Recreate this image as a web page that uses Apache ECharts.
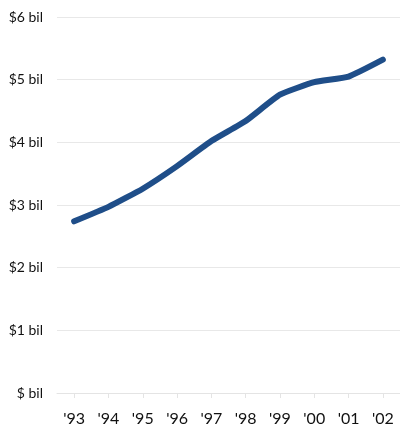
<!DOCTYPE html>
<html>
<head>
<meta charset="utf-8">
<script src="https://cdn.jsdelivr.net/npm/echarts@6/dist/echarts.min.js"></script>
<style>
html,body{margin:0;padding:0;background:#fff;}
#chart{width:400px;height:433px;}
</style>
</head>
<body>
<div id="chart"></div>
<script>
const categories = ["'93","'94","'95","'96","'97","'98","'99","'00","'01","'02"];
const values = [2.74, 2.97, 3.26, 3.62, 4.02, 4.34, 4.76, 4.96, 5.05, 5.32];
const yTickLabels = ['$ bil','$1 bil','$2 bil','$3 bil','$4 bil','$5 bil','$6 bil'];

const chart = echarts.init(document.getElementById('chart'));
chart.setOption({
  animation: false,
  grid: {left: 57, right: -7, top: 17, bottom: 40, containLabel: false},
  xAxis: {
    type: 'category',
    data: categories,
    boundaryGap: true,
    axisLine: {show: true, lineStyle: {color: '#e4e4e4', width: 1}},
    axisTick: {show: true, alignWithLabel: true, length: 5, lineStyle: {color: '#e4e4e4'}},
    axisLabel: {color: '#111', fontFamily: 'Lato', fontSize: 16, margin: 18}
  },
  yAxis: {
    type: 'value',
    min: 0, max: 6, interval: 1,
    axisLine: {show: false},
    axisTick: {show: false},
    splitLine: {lineStyle: {color: '#e8e8e8', width: 1}},
    axisLabel: {
      color: '#111', fontFamily: 'Lato', fontSize: 14, margin: 14,
      formatter: v => yTickLabels[Math.round(v)]
    }
  },
  series: [{
    type: 'line',
    data: values,
    symbol: 'none',
    smooth: 0.15,
    lineStyle: {color: '#1f4e89', width: 6, cap: 'round', join: 'round'}
  }]
});
</script>
</body>
</html>
